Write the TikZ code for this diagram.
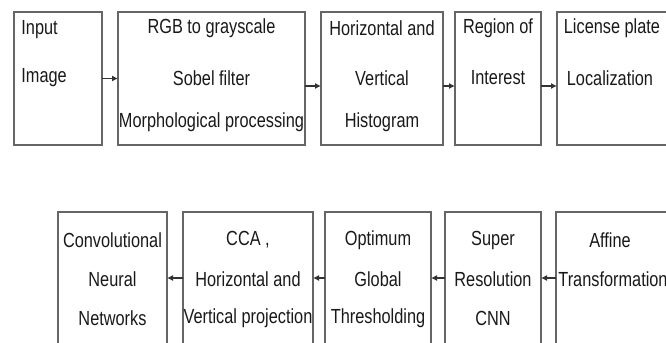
\documentclass[tikz,border=0pt]{standalone}
\usepackage{fontspec}
\setmainfont{Liberation Sans}[FakeStretch=0.8]
\usetikzlibrary{arrows.meta}
\begin{document}
\begin{tikzpicture}[x=0.5pt, y=-0.5pt,
	box/.style={draw=black!60, line width=0.6pt, inner sep=0pt, outer sep=0pt},
	lbl/.style={inner sep=0pt, text=black!90, font=\fontsize{10.2}{12}\selectfont},
	arr/.style={draw=black!80, line width=0.55pt, -{Latex[length=3pt,width=3pt]}}]

	\useasboundingbox (0,0) rectangle (666,343);
	\clip (0,0) rectangle (666,343);

	%first row
	\node[box, minimum width=44pt, minimum height=66.5pt] (inp) at (58,78.5) {};
	\node[box, minimum width=93.5pt, minimum height=66.5pt] (pre) at (211.5,78.5) {};
	\node[box, minimum width=61pt, minimum height=66.5pt] (hist) at (382,78.5) {};
	\node[box, minimum width=43pt, minimum height=66.5pt] (roi) at (498,78.5) {};
	\node[box, minimum width=61.5pt, minimum height=66.5pt] (loc) at (618.5,78.5) {};

	\node[lbl, anchor=west] (inpA) at (21,30) {Input};
	\node[lbl, anchor=west] (inpB) at (21,78) {Image};
	\node[lbl] (preA) at (211.5,28) {RGB to grayscale};
	\node[lbl] (preB) at (211.5,78) {Sobel filter};
	\node[lbl] (preC) at (211.5,122) {Morphological processing};
	\node[lbl] (histA) at (382,28) {Horizontal and};
	\node[lbl] (histB) at (382,78) {Vertical};
	\node[lbl] (histC) at (382,122) {Histogram};
	\node[lbl] (roiA) at (498,28) {Region of};
	\node[lbl] (roiB) at (498,78) {Interest};
	\node[lbl] (locA) at (612,28) {License plate};
	\node[lbl] (locB) at (610,78) {Localization};

	\coordinate (r1) at (0,86);
	\draw[arr] (inp.east) -- (pre.west);
	\draw[arr] (pre.east |- r1) -- (hist.west |- r1);
	\draw[arr] (hist.east |- r1) -- (roi.west |- r1);
	\draw[arr] (roi.east |- r1) -- (loc.west |- r1);

	%second row
	\node[box, minimum width=54.5pt, minimum height=74pt] (cnn) at (112.5,286) {};
	\node[box, minimum width=65pt, minimum height=74pt] (cca) at (248,286) {};
	\node[box, minimum width=53pt, minimum height=74pt] (thr) at (378,286) {};
	\node[box, minimum width=48pt, minimum height=74pt] (srcnn) at (493,286) {};
	\node[box, minimum width=62pt, minimum height=74pt] (aff) at (618,286) {};

	\node[lbl] (cnnA) at (112.5,240) {Convolutional};
	\node[lbl] (cnnB) at (112.5,279) {Neural};
	\node[lbl] (cnnC) at (112.5,318) {Networks};
	\node[lbl] (ccaA) at (248,240) {CCA ,};
	\node[lbl] (ccaB) at (248,279) {Horizontal and};
	\node[lbl] (ccaC) at (248,318) {Vertical projection};
	\node[lbl] (thrA) at (378,240) {Optimum};
	\node[lbl] (thrB) at (378,279) {Global};
	\node[lbl] (thrC) at (378,318) {Thresholding};
	\node[lbl] (srA) at (493,240) {Super};
	\node[lbl] (srB) at (493,279) {Resolution};
	\node[lbl] (srC) at (493,318) {CNN};
	\node[lbl] (affA) at (610,240) {Affine};
	\node[lbl] (affB) at (613,279) {Transformation};

	\coordinate (r2) at (0,278);
	\draw[arr] (aff.west |- r2) -- (srcnn.east |- r2);
	\draw[arr] (srcnn.west |- r2) -- (thr.east |- r2);
	\draw[arr] (thr.west |- r2) -- (cca.east |- r2);
	\draw[arr] (cca.west |- r2) -- (cnn.east |- r2);
\end{tikzpicture}
\end{document}
